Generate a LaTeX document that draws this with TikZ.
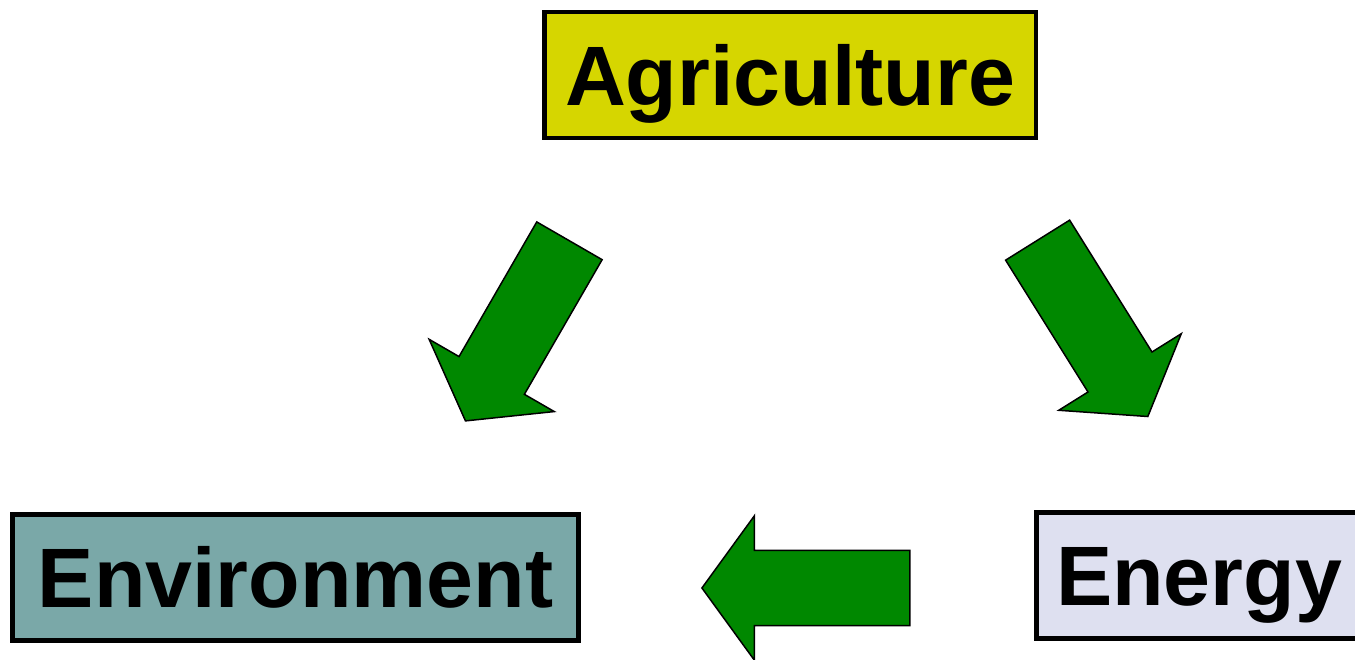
\documentclass[tikz,border=0pt]{standalone}
\usepackage{fontspec}
\setmainfont{Liberation Sans}
\usetikzlibrary{shapes.arrows}
\definecolor{jauneagri}{RGB}{214,214,0}
\definecolor{bleuenv}{RGB}{122,168,168}
\definecolor{mauveener}{RGB}{222,224,240}
\definecolor{vertfleche}{RGB}{0,136,0}

\begin{document}
\begin{tikzpicture}[x=0.02cm,y=0.02cm]
% Styles
\tikzstyle{boite}=[draw,line width=2.8pt,minimum height=2.52cm,inner sep=0pt,
  text height=34.4pt,text depth=0pt,font=\fontsize{48}{48}\selectfont\bfseries]
\tikzstyle{grossefleche}=[single arrow,draw,fill=vertfleche,line width=0.85pt,
  inner xsep=0pt,inner ysep=0.74cm,minimum height=4.16cm,minimum width=2.86cm,
  single arrow head extend=0.69cm,single arrow tip angle=108,anchor=tip]
% Cadre
\useasboundingbox (0,0) rectangle (1355,659);
\clip (0,0) rectangle (1355,659);
% Boites
\node[boite,fill=jauneagri,minimum width=9.84cm] (agri) at (790,584) {Agriculture};
\node[boite,fill=bleuenv,minimum width=11.34cm] (env) at (295.5,81.5) {Environment};
\node[boite,fill=mauveener,minimum width=6.52cm] (ener) at (1199,83.5) {Energy};
% Fleches
\node[grossefleche,rotate=240] (f1) at (465,237.3) {};
\node[grossefleche,rotate=-58] (f2) at (1148.3,241.7) {};
\node[grossefleche,rotate=180] (f3) at (701,71) {};
\end{tikzpicture}
\end{document}
